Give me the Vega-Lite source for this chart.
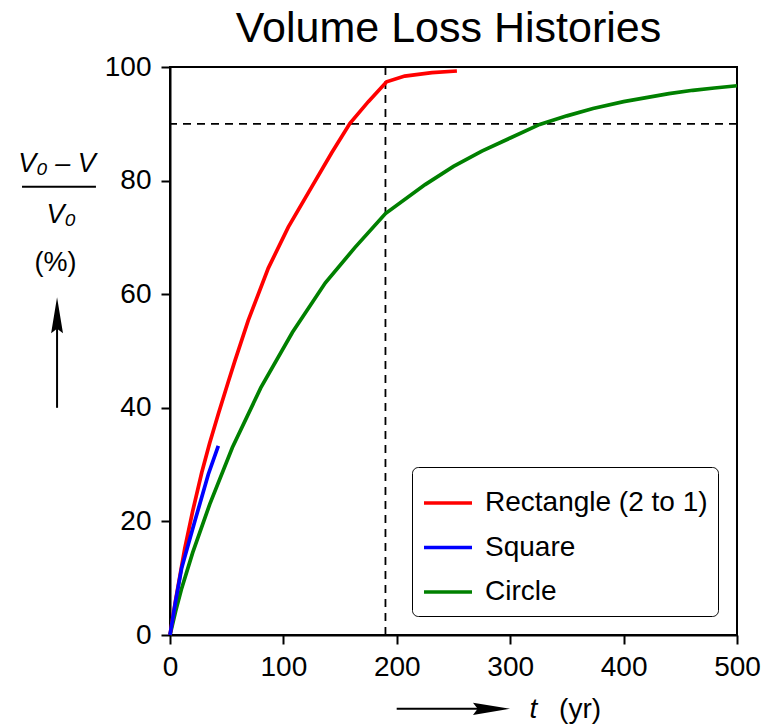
{
  "$schema": "https://vega.github.io/schema/vega-lite/v6.json",
  "width": 567,
  "height": 568,
  "autosize": {"type": "none"},
  "padding": {"left": 170, "top": 67, "right": 36, "bottom": 92},
  "background": "white",
  "title": {"text": "Volume Loss Histories", "fontSize": 43, "font": "Liberation Sans", "fontWeight": "normal", "color": "black", "anchor": "middle", "offset": 2, "dx": -5},
  "config": {
    "view": {"stroke": "black", "strokeWidth": 2},
    "axis": {"domainColor": "black", "domainWidth": 2, "tickColor": "black", "tickWidth": 2, "tickSize": 9, "labelFont": "Liberation Sans", "labelFontSize": 28, "labelColor": "black", "grid": false, "title": null}
  },
  "datasets": {
    "curves": [
      {"series": "Circle", "t": 0, "v": 0},
      {"series": "Circle", "t": 5, "v": 4.2},
      {"series": "Circle", "t": 10, "v": 8},
      {"series": "Circle", "t": 20, "v": 14.5},
      {"series": "Circle", "t": 35, "v": 23},
      {"series": "Circle", "t": 55, "v": 33},
      {"series": "Circle", "t": 80, "v": 43.5},
      {"series": "Circle", "t": 108, "v": 53.3},
      {"series": "Circle", "t": 137, "v": 62},
      {"series": "Circle", "t": 163, "v": 68.2},
      {"series": "Circle", "t": 190, "v": 74.2},
      {"series": "Circle", "t": 225, "v": 79.3},
      {"series": "Circle", "t": 250, "v": 82.5},
      {"series": "Circle", "t": 275, "v": 85.2},
      {"series": "Circle", "t": 300, "v": 87.5},
      {"series": "Circle", "t": 326, "v": 89.9},
      {"series": "Circle", "t": 350, "v": 91.4},
      {"series": "Circle", "t": 373, "v": 92.7},
      {"series": "Circle", "t": 400, "v": 93.9},
      {"series": "Circle", "t": 420, "v": 94.6},
      {"series": "Circle", "t": 440, "v": 95.3},
      {"series": "Circle", "t": 461, "v": 95.9},
      {"series": "Circle", "t": 480, "v": 96.3},
      {"series": "Circle", "t": 500, "v": 96.7},
      {"series": "Rectangle (2 to 1)", "t": 0, "v": 0},
      {"series": "Rectangle (2 to 1)", "t": 5, "v": 6.2},
      {"series": "Rectangle (2 to 1)", "t": 13, "v": 15.2},
      {"series": "Rectangle (2 to 1)", "t": 20, "v": 21.8},
      {"series": "Rectangle (2 to 1)", "t": 28, "v": 28.6},
      {"series": "Rectangle (2 to 1)", "t": 35, "v": 33.8},
      {"series": "Rectangle (2 to 1)", "t": 42.6, "v": 38.9},
      {"series": "Rectangle (2 to 1)", "t": 51.4, "v": 44.6},
      {"series": "Rectangle (2 to 1)", "t": 57.3, "v": 48.3},
      {"series": "Rectangle (2 to 1)", "t": 69, "v": 55.4},
      {"series": "Rectangle (2 to 1)", "t": 86.7, "v": 64.6},
      {"series": "Rectangle (2 to 1)", "t": 104.3, "v": 71.8},
      {"series": "Rectangle (2 to 1)", "t": 125, "v": 78.9},
      {"series": "Rectangle (2 to 1)", "t": 142.6, "v": 84.9},
      {"series": "Rectangle (2 to 1)", "t": 158.7, "v": 90.1},
      {"series": "Rectangle (2 to 1)", "t": 174.9, "v": 93.9},
      {"series": "Rectangle (2 to 1)", "t": 191, "v": 97.4},
      {"series": "Rectangle (2 to 1)", "t": 207, "v": 98.4},
      {"series": "Rectangle (2 to 1)", "t": 231, "v": 99.0},
      {"series": "Rectangle (2 to 1)", "t": 253, "v": 99.3},
      {"series": "Square", "t": 0, "v": 0},
      {"series": "Square", "t": 5, "v": 6},
      {"series": "Square", "t": 10.3, "v": 11.8},
      {"series": "Square", "t": 22, "v": 20.1},
      {"series": "Square", "t": 33.8, "v": 28.3},
      {"series": "Square", "t": 42.6, "v": 33.3}
    ],
    "one": [{}]
  },
  "layer": [
    {
      "data": {"name": "one"},
      "mark": {"type": "rule", "strokeDash": [8, 6], "strokeWidth": 1.8, "color": "black"},
      "encoding": {"x": {"datum": 190, "type": "quantitative"}}
    },
    {
      "data": {"name": "one"},
      "mark": {"type": "rule", "strokeDash": [8, 6], "strokeWidth": 1.8, "color": "black"},
      "encoding": {"y": {"datum": 90, "type": "quantitative"}}
    },
    {
      "data": {"name": "curves"},
      "mark": {"type": "line", "strokeWidth": 3.7},
      "encoding": {
        "x": {"field": "t", "type": "quantitative", "scale": {"domain": [0, 500], "nice": false}, "axis": {"values": [0, 100, 200, 300, 400, 500], "labelPadding": 9, "labelFlush": false, "title": null}},
        "y": {"field": "v", "type": "quantitative", "scale": {"domain": [0, 100], "nice": false}, "axis": {"values": [0, 20, 40, 60, 80, 100], "labelPadding": 10, "title": null}},
        "color": {
          "field": "series", "type": "nominal",
          "scale": {"domain": ["Rectangle (2 to 1)", "Square", "Circle"], "range": ["#ff0000", "#0000ff", "#008000"]},
          "legend": {"orient": "none", "legendX": 242, "legendY": 400, "title": null, "symbolType": "stroke", "symbolStrokeWidth": 3.5, "symbolSize": 2304, "labelFontSize": 28, "labelFont": "Liberation Sans", "labelColor": "black", "labelLimit": 400, "labelOffset": 11, "rowPadding": 4.5, "padding": 10, "strokeColor": "black", "cornerRadius": 6, "fillColor": "white"}
        },
        "order": {"field": "t", "type": "quantitative"}
      }
    },
    {
      "data": {"name": "one"},
      "mark": {"type": "text", "text": "V₀ – V", "fontStyle": "italic", "fontSize": 27, "font": "Liberation Sans", "align": "center", "baseline": "middle", "color": "black"},
      "encoding": {"x": {"datum": -99.6, "type": "quantitative"}, "y": {"datum": 82.9, "type": "quantitative"}}
    },
    {
      "data": {"name": "one"},
      "mark": {"type": "rule", "strokeWidth": 2, "color": "black"},
      "encoding": {"x": {"datum": -130.5, "type": "quantitative"}, "x2": {"datum": -65.3}, "y": {"datum": 78.9, "type": "quantitative"}}
    },
    {
      "data": {"name": "one"},
      "mark": {"type": "text", "text": "V₀", "fontStyle": "italic", "fontSize": 27, "font": "Liberation Sans", "align": "center", "baseline": "middle", "color": "black"},
      "encoding": {"x": {"datum": -96, "type": "quantitative"}, "y": {"datum": 73.9, "type": "quantitative"}}
    },
    {
      "data": {"name": "one"},
      "mark": {"type": "text", "text": "(%)", "fontSize": 27, "font": "Liberation Sans", "align": "center", "baseline": "middle", "color": "black"},
      "encoding": {"x": {"datum": -100.9, "type": "quantitative"}, "y": {"datum": 65.5, "type": "quantitative"}}
    },
    {
      "data": {"name": "one"},
      "mark": {"type": "rule", "strokeWidth": 2, "color": "black"},
      "encoding": {"x": {"datum": -99.6, "type": "quantitative"}, "y": {"datum": 40, "type": "quantitative"}, "y2": {"datum": 55}}
    },
    {
      "data": {"name": "one"},
      "mark": {"type": "point", "shape": "M0,-1L0.33,1L0,0.75L-0.33,1Z", "filled": true, "size": 1296, "color": "black", "opacity": 1},
      "encoding": {"x": {"datum": -99.6, "type": "quantitative"}, "y": {"datum": 56.3, "type": "quantitative"}}
    },
    {
      "data": {"name": "one"},
      "mark": {"type": "rule", "strokeWidth": 2, "color": "black"},
      "encoding": {"x": {"datum": 199.9, "type": "quantitative"}, "x2": {"datum": 275}, "y": {"datum": -13, "type": "quantitative"}}
    },
    {
      "data": {"name": "one"},
      "mark": {"type": "point", "shape": "M1,0L-1,-0.33L-0.75,0L-1,0.33Z", "filled": true, "size": 1369, "color": "black", "opacity": 1},
      "encoding": {"x": {"datum": 283.5, "type": "quantitative"}, "y": {"datum": -13, "type": "quantitative"}}
    },
    {
      "data": {"name": "one"},
      "mark": {"type": "text", "text": "t", "fontStyle": "italic", "fontSize": 28, "font": "Liberation Sans", "align": "center", "baseline": "middle", "color": "black"},
      "encoding": {"x": {"datum": 320.5, "type": "quantitative"}, "y": {"datum": -13.2, "type": "quantitative"}}
    },
    {
      "data": {"name": "one"},
      "mark": {"type": "text", "text": "(yr)", "fontSize": 28, "font": "Liberation Sans", "align": "center", "baseline": "middle", "color": "black"},
      "encoding": {"x": {"datum": 361.6, "type": "quantitative"}, "y": {"datum": -13.2, "type": "quantitative"}}
    }
  ]
}
